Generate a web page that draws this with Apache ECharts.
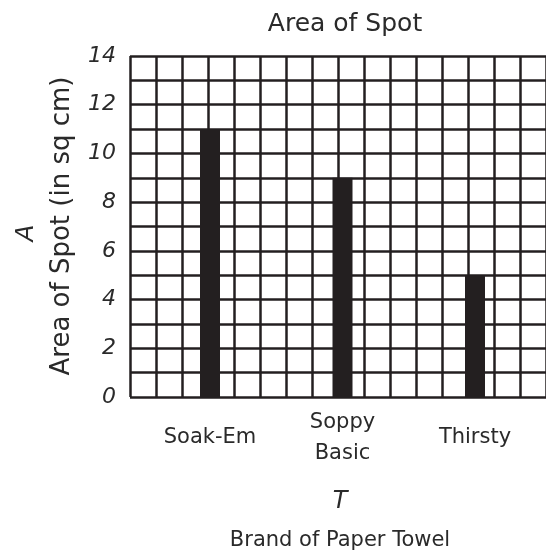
<!DOCTYPE html>
<html><head><meta charset="utf-8">
<script src="https://cdn.jsdelivr.net/npm/echarts@6/dist/echarts.min.js"></script>
<style>html,body{margin:0;padding:0;background:#fff}#c{width:546px;height:560px}</style>
</head><body><div id="c"></div>
<script>
const categories = ['Soak-Em', 'Soppy\nBasic', 'Thirsty'];
const values = [11, 9, 5];
const yTicks = [0, 2, 4, 6, 8, 10, 12, 14];
const titleText = 'Area of Spot';
const yName = 'Area of Spot (in sq cm)';
const xName = 'Brand of Paper Towel';

const ink = '#231f20';
const txt = '#2a2a2a';
const font = 'DejaVu Sans';
const chart = echarts.init(document.getElementById('c'), null, {renderer: 'canvas'});
const gl = {color: ink, width: 2.5};
chart.setOption({
  animation: false,
  backgroundColor: '#fff',
  title: {text: titleText, left: 340, top: 7, textAlign: 'center',
    textStyle: {fontFamily: font, fontWeight: 'normal', fontSize: 25, color: txt}},
  grid: [
    {left: 130, top: 56, width: 422, height: 341},
    {left: 143.75, top: 56, width: 397.5, height: 341}
  ],
  xAxis: [
    {gridIndex: 0, type: 'value', min: 0, max: 16, interval: 1,
      axisLine: {show: false}, axisTick: {show: false}, axisLabel: {show: false},
      splitLine: {show: true, lineStyle: gl}},
    {gridIndex: 1, type: 'category', data: categories,
      axisLine: {show: false}, axisTick: {show: false},
      axisLabel: {margin: 41, verticalAlign: 'middle', lineHeight: 31,
        fontFamily: font, fontSize: 21, color: txt}}
  ],
  yAxis: [
    {gridIndex: 0, type: 'value', min: 0, max: 14, interval: 1,
      axisLine: {show: false}, axisTick: {show: false},
      axisLabel: {margin: 14, fontFamily: font, fontStyle: 'italic', fontSize: 22, color: txt,
        formatter: v => yTicks.includes(v) ? String(v) : ''},
      splitLine: {show: true, lineStyle: gl}},
    {gridIndex: 1, type: 'value', min: 0, max: 14, interval: 1,
      axisLine: {show: false}, axisTick: {show: false}, axisLabel: {show: false},
      splitLine: {show: false}}
  ],
  series: [{
    type: 'bar', xAxisIndex: 1, yAxisIndex: 1, data: values, barWidth: 20, z: 5,
    itemStyle: {color: ink}
  }],
  graphic: [
    {type: 'text', x: 62, y: 226, rotation: Math.PI / 2,
      style: {text: yName, fontFamily: font, fontSize: 26, fill: txt, textAlign: 'center', textVerticalAlign: 'middle'}},
    {type: 'text', x: 26, y: 233, rotation: Math.PI / 2,
      style: {text: 'A', fontFamily: font, fontStyle: 'italic', fontSize: 25, fill: txt, textAlign: 'center', textVerticalAlign: 'middle'}},
    {type: 'text', x: 340, y: 502,
      style: {text: 'T', fontFamily: font, fontStyle: 'italic', fontSize: 24, fill: txt, textAlign: 'center', textVerticalAlign: 'middle'}},
    {type: 'text', x: 340, y: 541,
      style: {text: xName, fontFamily: font, fontSize: 21, fill: txt, textAlign: 'center', textVerticalAlign: 'middle'}}
  ]
});
</script></body></html>
